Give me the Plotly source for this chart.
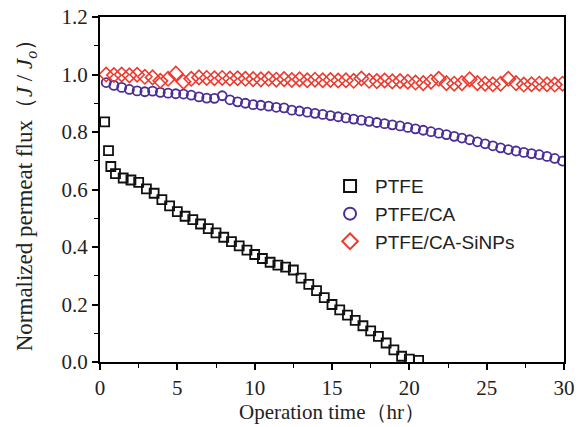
import plotly.graph_objects as go

# Operation time (hr) and normalized flux J/J0 for each membrane
ptfe_t = [0.3, 0.55, 0.7, 1.0, 1.5, 2.0, 2.5, 3.0, 3.5, 4.0, 4.5, 5.0, 5.5, 6.0,
          6.5, 7.0, 7.5, 8.0, 8.5, 9.0, 9.5, 10.0, 10.5, 11.0, 11.5, 12.0, 12.5,
          13.0, 13.5, 14.0, 14.5, 15.0, 15.5, 16.0, 16.5, 17.0, 17.5, 18.0, 18.5,
          19.0, 19.5, 20.0, 20.6]
ptfe_j = [0.835, 0.735, 0.68, 0.655, 0.64, 0.633, 0.625, 0.602, 0.587, 0.565,
          0.543, 0.523, 0.507, 0.495, 0.48, 0.464, 0.449, 0.434, 0.419, 0.404,
          0.389, 0.374, 0.36, 0.347, 0.337, 0.33, 0.32, 0.292, 0.27, 0.248,
          0.224, 0.2, 0.181, 0.163, 0.145, 0.126, 0.108, 0.089, 0.066, 0.042,
          0.02, 0.01, 0.006]

ca_t = [0.4, 0.9, 1.4, 1.9, 2.4, 2.9, 3.4, 3.9, 4.4, 4.9, 5.4, 5.9, 6.4, 6.9,
        7.4, 7.9, 8.4, 8.9, 9.4, 9.9, 10.4, 10.9, 11.4, 11.9, 12.4, 12.9, 13.4,
        13.9, 14.4, 14.9, 15.4, 15.9, 16.4, 16.9, 17.4, 17.9, 18.4, 18.9, 19.4,
        19.9, 20.4, 20.9, 21.4, 21.9, 22.4, 22.9, 23.4, 23.9, 24.4, 24.9, 25.4,
        25.9, 26.4, 26.9, 27.4, 27.9, 28.4, 28.9, 29.4, 29.9]
ca_j = [0.972, 0.962, 0.955, 0.948, 0.943, 0.94, 0.942, 0.938, 0.935, 0.933,
        0.932, 0.928, 0.922, 0.918, 0.917, 0.926, 0.912, 0.905, 0.9, 0.895,
        0.893, 0.89, 0.886, 0.884, 0.876, 0.873, 0.869, 0.865, 0.861, 0.857,
        0.853, 0.849, 0.845, 0.841, 0.837, 0.833, 0.829, 0.825, 0.821, 0.816,
        0.811, 0.806, 0.801, 0.796, 0.791, 0.785, 0.779, 0.773, 0.766, 0.759,
        0.752, 0.745, 0.739, 0.734, 0.729, 0.725, 0.721, 0.715, 0.708, 0.699]

si_t = ca_t
si_j = [1.0, 0.998, 1.0, 0.997, 0.999, 0.992, 0.99, 0.978, 0.985, 1.003,
        0.975, 0.985, 0.99, 0.988, 0.987, 0.988, 0.986, 0.987, 0.985, 0.984,
        0.983, 0.985, 0.982, 0.984, 0.981, 0.983, 0.98, 0.982, 0.98, 0.981,
        0.979, 0.98, 0.978, 0.986, 0.978, 0.977, 0.979, 0.976, 0.977, 0.975,
        0.972, 0.97, 0.975, 0.985, 0.97, 0.968, 0.97, 0.983, 0.97, 0.968,
        0.966, 0.968, 0.985, 0.97, 0.965, 0.966, 0.968, 0.966, 0.965, 0.968]

x_ticks = [0, 5, 10, 15, 20, 25, 30]
y_ticks = [0.0, 0.2, 0.4, 0.6, 0.8, 1.0, 1.2]

serif = "Liberation Serif, Times New Roman, serif"
sans = "Liberation Sans, Arial, sans-serif"
ink = "#222222"

fig = go.Figure()
fig.add_trace(go.Scatter(
    x=ptfe_t, y=ptfe_j, mode="markers", name="PTFE",
    marker=dict(symbol="square-open", size=9, color="#111111",
                line=dict(width=1.8, color="#111111"))))
fig.add_trace(go.Scatter(
    x=ca_t, y=ca_j, mode="markers", name="PTFE/CA",
    marker=dict(symbol="circle-open", size=9, color="#4b2d96",
                line=dict(width=1.8, color="#4b2d96"))))
fig.add_trace(go.Scatter(
    x=si_t, y=si_j, mode="markers", name="PTFE/CA-SiNPs",
    marker=dict(symbol="diamond-open", size=11, color="#ee3a2e",
                line=dict(width=1.6, color="#ee3a2e"))))

axis_common = dict(
    showline=True, linecolor="black", linewidth=2, mirror=True,
    ticks="outside", ticklen=6, tickwidth=1.5, tickcolor="black",
    showgrid=False, zeroline=False, automargin=False,
    tickfont=dict(family=serif, size=21, color=ink),
)

fig.update_xaxes(
    range=[0, 30], tickvals=x_ticks,
    minor=dict(ticks="outside", dtick=2.5, ticklen=4, tickwidth=1.2, tickcolor="black"),
    title=dict(text="Operation time（hr）", font=dict(family=serif, size=21, color=ink),
               standoff=0),
    **axis_common)
fig.update_yaxes(
    range=[0, 1.2], tickvals=y_ticks, tickformat=".1f",
    minor=dict(ticks="outside", dtick=0.1, ticklen=4, tickwidth=1.2, tickcolor="black"),
    title=dict(text="Normalized permeat flux（<i>J</i> / <i>J</i><sub><i>o</i></sub>）",
               font=dict(family=serif, size=23, color=ink), standoff=22),
    **axis_common)

fig.update_layout(
    width=578, height=427,
    margin=dict(l=100, r=14, t=17, b=65),
    paper_bgcolor="white", plot_bgcolor="white",
    showlegend=True,
    legend=dict(x=0.485, y=0.565, xanchor="left", yanchor="top",
                font=dict(family=sans, size=19, color=ink),
                bgcolor="rgba(0,0,0,0)", tracegroupgap=0,
                itemwidth=40, itemsizing="constant"),
)

fig.write_html("out.html")
